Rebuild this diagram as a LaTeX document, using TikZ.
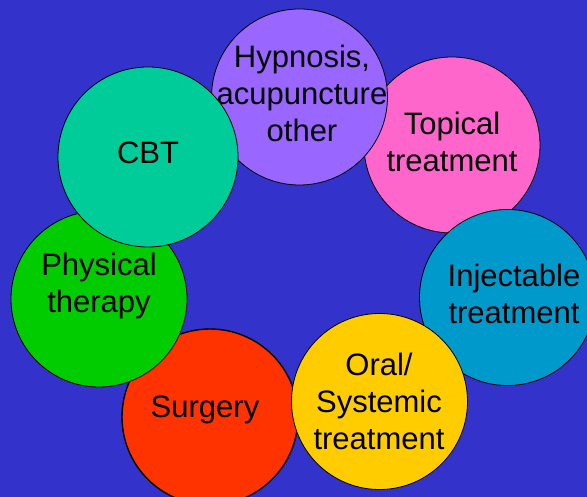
\documentclass[tikz,border=0pt]{standalone}
\usepackage{fontspec}
\setmainfont{Liberation Sans}
\usepackage{tikz}
\definecolor{bgblue}{HTML}{3333CC}
\definecolor{hypcol}{HTML}{9966FF}
\definecolor{topcol}{HTML}{FF66CC}
\definecolor{cbtcol}{HTML}{00CC99}
\definecolor{phycol}{HTML}{00CC00}
\definecolor{injcol}{HTML}{0099CC}
\definecolor{oracol}{HTML}{FFCC00}
\definecolor{surcol}{HTML}{FF3300}

\begin{document}
\begin{tikzpicture}[x=1pt,y=-1pt,
	bubble/.style={circle, draw=black, line width=0.8pt, minimum size=176pt, inner sep=0pt},
	txt/.style={align=center, inner sep=0pt, font=\fontsize{31}{37}\selectfont}]
	\useasboundingbox (0,0) rectangle (587,497);
	\clip (0,0) rectangle (587,497);
	\fill[bgblue] (0,0) rectangle (587,497);

	% back to front
	\node[bubble, fill=surcol, line width=1.4pt] (surgery) at (210,417) {};
	\node[txt] (surgerylbl) at (205,410) {Surgery};

	\node[bubble, fill=topcol] (topical) at (452,145) {};
	\node[txt] (topicallbl) at (452,142) {Topical\\treatment};

	\node[bubble, fill=injcol] (inject) at (507.5,297.5) {};
	\node[txt] (injectlbl) at (514,294) {Injectable\\treatment};

	\node[bubble, fill=oracol] (oral) at (379.5,401.5) {};
	\node[txt] (orallbl) at (379,401) {Oral/\\Systemic\\treatment};

	\node[bubble, fill=phycol] (physical) at (99,299) {};
	\node[txt] (physicallbl) at (99,286) {Physical\\therapy};

	\node[bubble, fill=hypcol] (hypnosis) at (299.5,97) {};
	\node[txt] (hypnosislbl) at (302,93) {Hypnosis,\\acupuncture\\other};

	\node[bubble, fill=cbtcol, minimum size=180pt] (cbt) at (148,157) {};
	\node[txt] (cbtlbl) at (148,153) {CBT};
\end{tikzpicture}
\end{document}
